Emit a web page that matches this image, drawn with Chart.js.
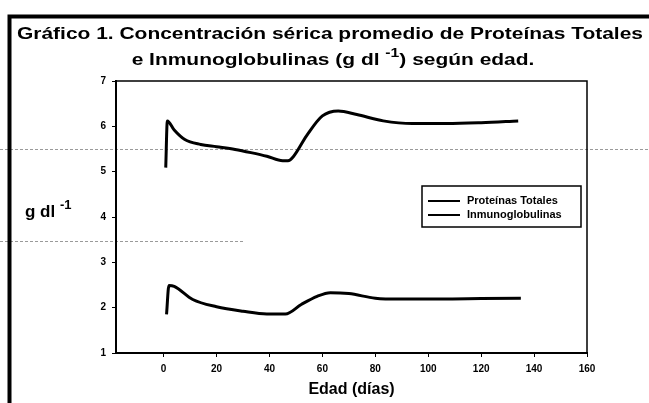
<!DOCTYPE html>
<html>
<head>
<meta charset="utf-8">
<script src="https://cdn.jsdelivr.net/npm/chart.js@4/dist/chart.umd.min.js"></script>
<style>
  html, body { margin: 0; padding: 0; background: #fff; }
  #wrap { width: 649px; height: 403px; position: relative; }
</style>
</head>
<body>
<div id="wrap"><canvas id="grafico" width="649" height="403"></canvas></div>
<script>
// datos
var protDias    = [0.8, 1.4, 4, 8, 14, 20, 27, 33, 39, 45, 47, 49, 54, 60, 66, 73, 83, 94, 107, 120, 134];
var protValores = [5.09, 6.12, 5.92, 5.71, 5.60, 5.55, 5.49, 5.42, 5.34, 5.24, 5.24, 5.33, 5.79, 6.23, 6.34, 6.26, 6.12, 6.06, 6.06, 6.08, 6.12];
var igDias      = [1.1, 2, 4, 11, 20, 30, 39, 46, 52, 58, 63, 70, 80, 89, 105, 120, 135];
var igValores   = [1.85, 2.49, 2.47, 2.18, 2.02, 1.92, 1.86, 1.86, 2.07, 2.25, 2.33, 2.31, 2.21, 2.19, 2.19, 2.20, 2.21];
var xTicks = [0, 20, 40, 60, 80, 100, 120, 140, 160];

function toPoints(xs, ys){
  return xs.map(function(x, i){ return {x: x, y: ys[i]}; });
}

var FONT = "'Liberation Sans', Arial, sans-serif";

// texto con superindice "-1"
function drawSup(ctx, parts, x, y, size, align){
  var w = 0;
  parts.forEach(function(p){
    ctx.font = "bold " + (p[1] ? Math.round(size*0.75) : size) + "px " + FONT;
    w += ctx.measureText(p[0]).width;
  });
  var cx = align == "center" ? x - w/2 : x;
  parts.forEach(function(p){
    ctx.font = "bold " + (p[1] ? Math.round(size*0.75) : size) + "px " + FONT;
    ctx.fillText(p[0], cx, p[1] ? y - size*0.45 : y);
    cx += ctx.measureText(p[0]).width;
  });
}

var decor = {
  id: "decor",
  beforeDraw: function(chart){
    var ctx = chart.ctx;
    ctx.save();
    // artefactos del escaneo
    ctx.strokeStyle = "#9a9a9a";
    ctx.lineWidth = 1;
    ctx.setLineDash([3, 2]);
    ctx.beginPath();
    ctx.moveTo(0, 149.5); ctx.lineTo(649, 149.5);
    ctx.moveTo(0, 241.5); ctx.lineTo(245, 241.5);
    ctx.stroke();
    ctx.setLineDash([]);
    ctx.restore();
  },
  afterDraw: function(chart){
    var ctx = chart.ctx, a = chart.chartArea;
    ctx.save();
    ctx.fillStyle = "#000";
    ctx.strokeStyle = "#000";
    // marco exterior
    ctx.lineWidth = 4;
    ctx.beginPath();
    ctx.moveTo(9.5, 403); ctx.lineTo(9.5, 16.5); ctx.lineTo(649, 16.5);
    ctx.stroke();
    // marco del area
    ctx.lineWidth = 1.5;
    ctx.beginPath();
    ctx.moveTo(a.left, a.top); ctx.lineTo(a.right, a.top); ctx.lineTo(a.right, a.bottom);
    ctx.stroke();

    // titulo
    ctx.textBaseline = "alphabetic";
    ctx.font = "bold 16px " + FONT;
    var t1 = "Gráfico 1. Concentración sérica promedio de Proteínas Totales";
    var w1 = ctx.measureText(t1).width;
    ctx.save();
    ctx.translate(17, 38.5);
    ctx.scale(626 / w1, 1);
    ctx.fillText(t1, 0, 0);
    ctx.restore();
    ctx.save();
    ctx.translate(333, 64.5);
    ctx.scale(626 / w1, 1);
    drawSup(ctx, [["e Inmunoglobulinas (g dl ", false], ["-1", true], [") según edad.", false]], 0, 0, 16, "center");
    ctx.restore();

    // titulo eje y
    drawSup(ctx, [["g dl ", false], ["-1", true]], 25, 217, 17, "left");

    // leyenda
    ctx.lineWidth = 1.5;
    ctx.strokeRect(422, 186, 159, 41);
    chart.data.datasets.forEach(function(ds, i){
      var y = 201 + i*14;
      ctx.lineWidth = 2;
      ctx.beginPath(); ctx.moveTo(428, y); ctx.lineTo(460, y); ctx.stroke();
      ctx.font = "bold 11px " + FONT;
      ctx.textBaseline = "middle";
      ctx.fillText(ds.label, 467, y);
    });
    ctx.restore();
  }
};

new Chart(document.getElementById("grafico"), {
  type: "line",
  data: {
    datasets: [
      {label: "Proteínas Totales", data: toPoints(protDias, protValores)},
      {label: "Inmunoglobulinas", data: toPoints(igDias, igValores)}
    ].map(function(d){
      d.borderColor = "#000";
      d.borderWidth = 3;
      d.pointRadius = 0;
      d.fill = false;
      d.cubicInterpolationMode = "monotone";
      return d;
    })
  },
  options: {
    responsive: false,
    animation: false,
    layout: {padding: {left: 76, right: 62, top: 81, bottom: 0}},
    plugins: {legend: {display: false}, tooltip: {enabled: false}},
    scales: {
      x: {
        type: "linear", min: -18, max: 160,
        afterBuildTicks: function(s){ s.ticks = xTicks.map(function(v){ return {value: v}; }); },
        afterFit: function(s){ s.height = 50; },
        grid: {drawOnChartArea: false, tickLength: 4, color: "#000"},
        border: {color: "#000", width: 2},
        ticks: {color: "#000", font: {family: FONT, size: 10, weight: "bold"}, padding: 6, maxRotation: 0},
        title: {display: true, text: "Edad (días)", color: "#000", font: {family: FONT, size: 16, weight: "bold"}, padding: {top: 2}}
      },
      y: {
        min: 1, max: 7,
        ticks: {stepSize: 1, color: "#000", font: {family: FONT, size: 10, weight: "bold"}, padding: 6},
        afterFit: function(s){ s.width = 40; },
        grid: {drawOnChartArea: false, tickLength: 4, color: "#000"},
        border: {color: "#000", width: 2}
      }
    }
  },
  plugins: [decor]
});
</script>
</body>
</html>
